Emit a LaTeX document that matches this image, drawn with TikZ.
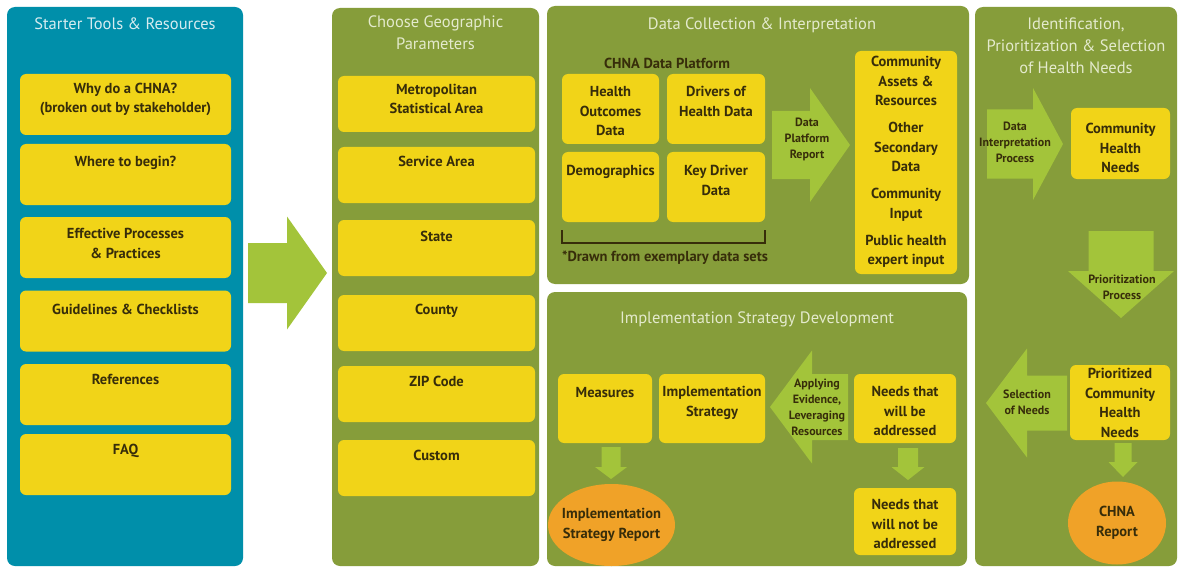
\documentclass[tikz,border=0pt]{standalone}
\usepackage{fontspec}
\setmainfont{PT Sans}
\usetikzlibrary{calc,shapes.geometric}

\definecolor{panelblue}{RGB}{0,143,170}
\definecolor{panelgreen}{RGB}{134,157,58}
\definecolor{boxyellow}{RGB}{241,212,24}
\definecolor{arrowgreen}{RGB}{163,196,58}
\definecolor{reportorange}{RGB}{240,162,40}
\definecolor{inktext}{RGB}{55,45,10}
\definecolor{titleblue}{RGB}{215,236,240}
\definecolor{titlegreen}{RGB}{228,234,205}

\tikzset{
	panel/.style={rounded corners=8pt, inner sep=0pt},
	ybox/.style={fill=boxyellow, rounded corners=6pt, inner sep=0pt},
	report/.style={ellipse, fill=reportorange, inner sep=0pt},
	ptitle/.style={font=\fontsize{16.5}{22}\selectfont, align=center, anchor=north, inner sep=0pt},
	btxt/.style={font=\bfseries\fontsize{14.5}{19.5}\selectfont, text=inktext, align=center, anchor=north, inner sep=0pt},
	atxt/.style={font=\bfseries\fontsize{12}{16}\selectfont, text=inktext, align=center, inner sep=0pt},
	bracket/.style={line width=1.8pt, draw=inktext}
}

% block arrow: from, to, body half width, head half width, head length
\newcommand{\blockarrow}[5]{%
	\coordinate (ba-h) at ($(#2)!#5!(#1)$);
	\fill[arrowgreen] ($(#1)!#3!90:(#2)$) -- ($(ba-h)!#3!-90:(#1)$) -- ($(ba-h)!#4!-90:(#1)$) -- (#2)
		-- ($(ba-h)!#4!90:(#1)$) -- ($(ba-h)!#3!90:(#1)$) -- ($(#1)!#3!-90:(#2)$) -- cycle;}

\begin{document}
\begin{tikzpicture}[x=1pt,y=1pt,yscale=-1]
	\useasboundingbox (0,0) rectangle (1178,567);
	\fill[white] (0,0) rectangle (1178,567);
	% panels
	\node[panel, fill=panelblue, minimum width=236, minimum height=559] (start) at (125,286.5) {};
	\node[panel, fill=panelgreen, minimum width=207, minimum height=558] (geo) at (435.5,287) {};
	\node[panel, fill=panelgreen, minimum width=422, minimum height=278] (data) at (758,145) {};
	\node[panel, fill=panelgreen, minimum width=420, minimum height=274] (impl) at (757,429) {};
	\node[panel, fill=panelgreen, minimum width=202, minimum height=559] (ident) at (1076,286.5) {};
	\node[ptitle, text=titleblue] (start-t) at ([yshift=11pt]start.north) {Starter Tools \& Resources};
	\node[ptitle, text=titlegreen] (geo-t) at ([yshift=8pt]geo.north) {Choose Geographic\\Parameters};
	\node[ptitle, text=titlegreen] (data-t) at ([xshift=4pt,yshift=12pt]data.north) {Data Collection \& Interpretation};
	\node[ptitle, text=titlegreen] (impl-t) at ([yshift=20pt]impl.north) {Implementation Strategy Development};
	\node[ptitle, text=titlegreen] (ident-t) at ([yshift=11pt]ident.north) {Identification,\\Prioritization \& Selection\\of Health Needs};

	% arrows
	\coordinate (a1s) at (248,273); \coordinate (a1t) at (327,273);
	\blockarrow{a1s}{a1t}{30pt}{56.5pt}{40pt}
	\coordinate (a2s) at (772,145); \coordinate (a2t) at (850,145);
	\blockarrow{a2s}{a2t}{34pt}{57pt}{40pt}
	\coordinate (a3s) at (848,407); \coordinate (a3t) at (770,407);
	\blockarrow{a3s}{a3t}{33pt}{56.5pt}{42pt}
	\coordinate (a4s) at (611,447); \coordinate (a4t) at (611,479);
	\blockarrow{a4s}{a4t}{9.5pt}{16pt}{12pt}
	\coordinate (a5s) at (908,448); \coordinate (a5t) at (908,480);
	\blockarrow{a5s}{a5t}{10pt}{16.5pt}{13pt}
	\coordinate (a6s) at (987,144); \coordinate (a6t) at (1063,144);
	\blockarrow{a6s}{a6t}{34.5pt}{56pt}{30pt}
	\coordinate (a7s) at (1121,231); \coordinate (a7t) at (1121,318);
	\blockarrow{a7s}{a7t}{32.5pt}{53pt}{47pt}
	\coordinate (a8s) at (1067,403); \coordinate (a8t) at (986,403);
	\blockarrow{a8s}{a8t}{27.5pt}{54.5pt}{41pt}
	\coordinate (a9s) at (1123,443); \coordinate (a9t) at (1123,477);
	\blockarrow{a9s}{a9t}{8.5pt}{14.5pt}{15pt}
	\node[atxt] (dpr) at (807,139) {Data\\Platform\\Report};
	\node[atxt] (aelr) at (817,407.5) {Applying\\Evidence,\\Leveraging\\Resources};
	\node[atxt] (dip) at (1015,142) {Data\\Interpretation\\Process};
	\node[atxt] (pp) at (1122,287) {Prioritization\\Process};
	\node[atxt] (sel) at (1027,402) {Selection\\of Needs};

	% starter tools
	\node[ybox, minimum width=211, minimum height=61] (why) at (125.5,104.5) {};
	\node[ybox, minimum width=211, minimum height=61] (begin) at (125.5,174.5) {};
	\node[ybox, minimum width=211, minimum height=61] (eff) at (125.5,247.5) {};
	\node[ybox, minimum width=211, minimum height=61] (guide) at (125.5,321) {};
	\node[ybox, minimum width=211, minimum height=61] (refs) at (125.5,394.5) {};
	\node[ybox, minimum width=211, minimum height=61] (faq) at (125.5,464.5) {};
	\node[btxt] (why-t) at ([yshift=9pt]why.north) {Why do a CHNA?\\(broken out by stakeholder)};
	\node[btxt] (begin-t) at ([yshift=12.5pt]begin.north) {Where to begin?};
	\node[btxt] (eff-t) at ([yshift=11.5pt]eff.north) {Effective Processes\\\& Practices};
	\node[btxt] (guide-t) at ([yshift=13.5pt]guide.north) {Guidelines \& Checklists};
	\node[btxt] (refs-t) at ([yshift=10.5pt]refs.north) {References};
	\node[btxt] (faq-t) at ([yshift=10pt]faq.north) {FAQ};

	% geographic parameters
	\node[ybox, minimum width=197, minimum height=56] (msa) at (436.5,104) {};
	\node[ybox, minimum width=197, minimum height=56] (svc) at (436.5,175) {};
	\node[ybox, minimum width=197, minimum height=56] (state) at (436.5,248) {};
	\node[ybox, minimum width=197, minimum height=56] (county) at (436.5,323) {};
	\node[ybox, minimum width=197, minimum height=56] (zip) at (436.5,394) {};
	\node[ybox, minimum width=197, minimum height=56] (custom) at (436.5,468) {};
	\node[btxt] (msa-t) at ([yshift=8pt]msa.north) {Metropolitan\\Statistical Area};
	\node[btxt] (svc-t) at ([yshift=9.5pt]svc.north) {Service Area};
	\node[btxt] (state-t) at ([yshift=11.5pt]state.north) {State};
	\node[btxt] (county-t) at ([yshift=9.5pt]county.north) {County};
	\node[btxt] (zip-t) at ([yshift=10pt]zip.north) {ZIP Code};
	\node[btxt] (custom-t) at ([yshift=10pt]custom.north) {Custom};

	% data collection
	\node[btxt, anchor=center] (cdp) at (667,63) {CHNA Data Platform};
	\node[ybox, minimum width=97, minimum height=70] (hod) at (610.5,109) {};
	\node[ybox, minimum width=98, minimum height=70] (drv) at (716,109) {};
	\node[ybox, minimum width=97, minimum height=70] (demo) at (610.5,187) {};
	\node[ybox, minimum width=98, minimum height=70] (key) at (716,187) {};
	\node[ybox, minimum width=102, minimum height=223] (comm) at (906,162.5) {};
	\node[btxt] (hod-t) at ([yshift=12.5pt]hod.north) {Health\\Outcomes\\Data};
	\node[btxt] (drv-t) at ([yshift=12.5pt]drv.north) {Drivers of\\Health Data};
	\node[btxt] (demo-t) at ([yshift=13.5pt]demo.north) {Demographics};
	\node[btxt] (key-t) at ([yshift=13.5pt]key.north) {Key Driver\\Data};
	\node[btxt] (comm-t) at ([yshift=5.5pt]comm.north) {Community\\Assets \&\\Resources\\[7.5pt]Other\\Secondary\\Data\\[7.5pt]Community\\Input\\[7.5pt]Public health\\expert input};
	\draw[bracket] ([yshift=8pt]demo.south west) -- ++(0,13) -| ([yshift=8pt]key.south east);
	\node[btxt, anchor=center] (drawn) at (665,258) {*Drawn from exemplary data sets};

	% implementation strategy
	\node[ybox, minimum width=94, minimum height=69] (meas) at (605,408.5) {};
	\node[ybox, minimum width=106, minimum height=69] (istr) at (712,408.5) {};
	\node[ybox, minimum width=102, minimum height=69] (nwb) at (905,408.5) {};
	\node[ybox, minimum width=102, minimum height=67] (nwnb) at (905,521.5) {};
	\node[report, minimum width=127, minimum height=82] (isr) at (611.5,525) {};
	\node[btxt] (meas-t) at ([yshift=13.5pt]meas.north) {Measures};
	\node[btxt] (istr-t) at ([yshift=12.5pt]istr.north) {Implementation\\Strategy};
	\node[btxt] (nwb-t) at ([yshift=12.5pt]nwb.north) {Needs that\\will be\\addressed};
	\node[btxt] (nwnb-t) at ([yshift=11.5pt]nwnb.north) {Needs that\\will not be\\addressed};
	\node[btxt, anchor=center] (isr-t) at (isr.center) {Implementation\\Strategy Report};

	% identification
	\node[ybox, minimum width=99, minimum height=71] (chn) at (1120.5,143.5) {};
	\node[ybox, minimum width=100, minimum height=75] (pchn) at (1120,402.5) {};
	\node[report, minimum width=98, minimum height=83] (rep) at (1117,523) {};
	\node[btxt] (chn-t) at ([yshift=15.5pt]chn.north) {Community\\Health\\Needs};
	\node[btxt] (pchn-t) at ([yshift=3.5pt]pchn.north) {Prioritized\\Community\\Health\\Needs};
	\node[btxt, anchor=center] (rep-t) at (rep.center) {CHNA\\Report};
\end{tikzpicture}
\end{document}
